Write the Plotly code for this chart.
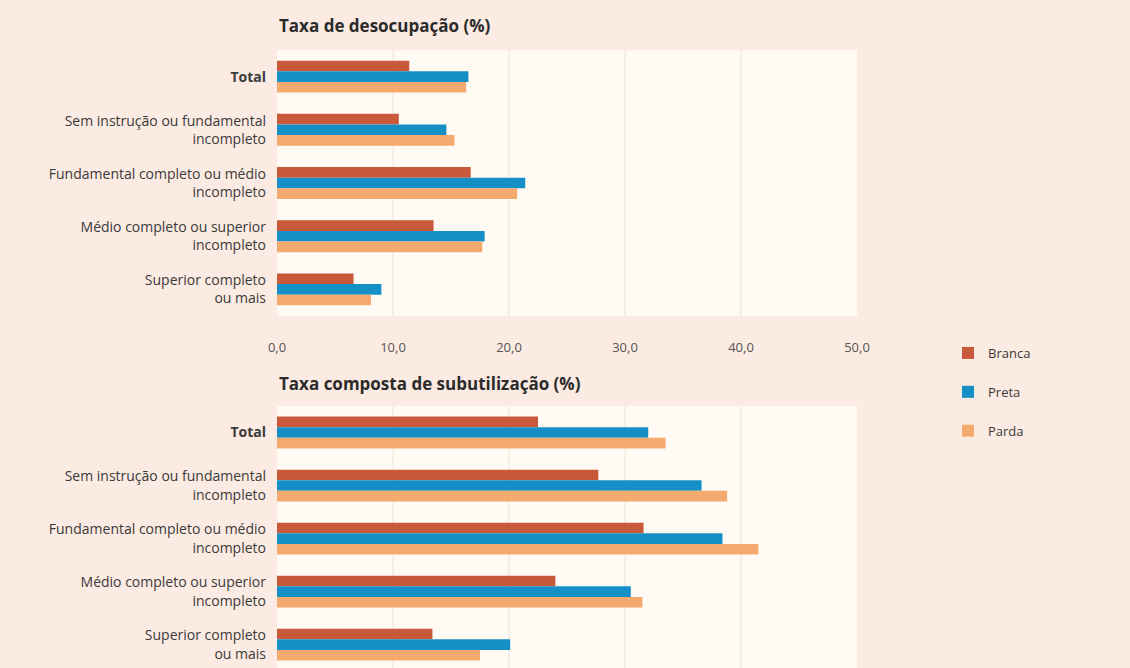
import plotly.graph_objects as go

categories = [
    "<b>Total</b>",
    "Sem instrução ou fundamental<br>incompleto",
    "Fundamental completo ou médio<br>incompleto",
    "Médio completo ou superior<br>incompleto",
    "Superior completo<br>ou mais",
]
series_names = ["Branca", "Preta", "Parda"]
colors = ["#c85a3b", "#1490c6", "#f4aa6e"]

desocupacao_branca = [11.4, 10.5, 16.7, 13.5, 6.6]
desocupacao_preta = [16.5, 14.6, 21.4, 17.9, 9.0]
desocupacao_parda = [16.3, 15.3, 20.7, 17.7, 8.1]

subutil_branca = [22.5, 27.7, 31.6, 24.0, 13.4]
subutil_preta = [32.0, 36.6, 38.4, 30.5, 20.1]
subutil_parda = [33.5, 38.8, 41.5, 31.5, 17.5]

x_ticks = [0, 10, 20, 30, 40, 50]
title_top = "Taxa de desocupação (%)"
title_bottom = "Taxa composta de subutilização (%)"

W, H = 1130, 668
FONT = "'Open Sans', 'Noto Sans', sans-serif"
BG = "#fcebe2"
PLOT_BG = "#fffaf4"

fig = go.Figure()
top = [desocupacao_branca, desocupacao_preta, desocupacao_parda]
bot = [subutil_branca, subutil_preta, subutil_parda]
for i, name in enumerate(series_names):
    fig.add_trace(go.Bar(
        y=categories, x=top[i], name=name, orientation="h",
        marker=dict(color=colors[i], line=dict(width=0)),
        xaxis="x", yaxis="y", legendgroup=name, showlegend=True,
    ))
for i, name in enumerate(series_names):
    fig.add_trace(go.Bar(
        y=categories, x=bot[i], name=name, orientation="h",
        marker=dict(color=colors[i], line=dict(width=0)),
        xaxis="x2", yaxis="y2", legendgroup=name, showlegend=False,
    ))

x0_px, x1_px = 277, 857
top_px = (50, 316)
bot_px = (406, 668)
def py(p):
    return (H - p) / H

xdom = [x0_px / W, x1_px / W]

grid = dict(showgrid=True, gridcolor="#f6eee7", gridwidth=2, zeroline=False,
            showline=False, automargin=False)
fig.update_layout(
    width=W, height=H,
    margin=dict(l=0, r=0, t=0, b=0, autoexpand=False),
    paper_bgcolor=BG, plot_bgcolor=PLOT_BG,
    barmode="group", bargap=0.4, bargroupgap=0.0,
    separators=", ",
    font=dict(family=FONT, size=14, color="#3a3a3a"),
    showlegend=True,
    legend=dict(x=948 / W, y=py(338), xanchor="left", yanchor="top",
                bgcolor="rgba(0,0,0,0)", traceorder="grouped",
                tracegroupgap=19, font=dict(size=13, color="#3a3a3a"),
                itemwidth=30),
    xaxis=dict(domain=xdom, anchor="y", range=[0, 50], tickvals=x_ticks,
               tickformat=".1f", ticks="", ticklabelstandoff=22,
               tickfont=dict(size=13, color="#555"), **grid),
    yaxis=dict(domain=[py(top_px[1]), py(top_px[0])], anchor="x",
               autorange="reversed", ticks="", ticklabelstandoff=10,
               tickfont=dict(size=14, color="#3a3a3a"), showgrid=False,
               zeroline=False, showline=False, automargin=False),
    xaxis2=dict(domain=xdom, anchor="y2", range=[0, 50], tickvals=x_ticks,
                showticklabels=False, ticks="", **grid),
    yaxis2=dict(domain=[py(bot_px[1]), py(bot_px[0])], anchor="x2",
                range=[4.44, -0.5], ticks="", ticklabelstandoff=10,
                tickfont=dict(size=14, color="#3a3a3a"), showgrid=False,
                zeroline=False, showline=False, automargin=False),
    annotations=[
        dict(text="<b>" + title_top + "</b>", x=x0_px / W, y=py(25),
             xref="paper", yref="paper", xanchor="left", yanchor="middle",
             showarrow=False, font=dict(size=17, color="#2b2b2b", family=FONT)),
        dict(text="<b>" + title_bottom + "</b>", x=x0_px / W, y=py(383),
             xref="paper", yref="paper", xanchor="left", yanchor="middle",
             showarrow=False, font=dict(size=17, color="#2b2b2b", family=FONT)),
    ],
)

fig.write_html("out.html", config={"displayModeBar": False},
               post_script="document.body.style.margin='0px';")
